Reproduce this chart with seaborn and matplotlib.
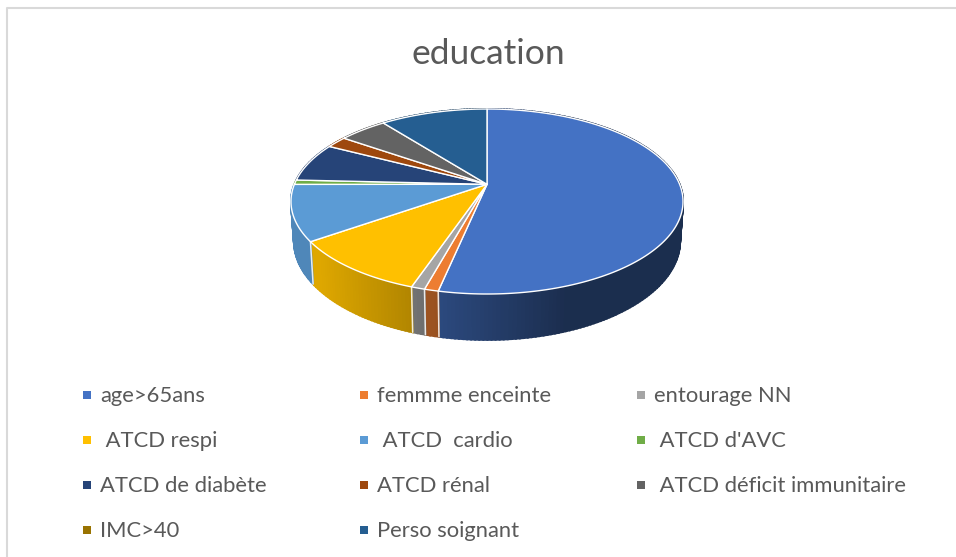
import numpy as np
import matplotlib
matplotlib.use('Agg')
import matplotlib.pyplot as plt
import seaborn as sns

# ── Data ──────────────────────────────────────────────────────────────
title = 'education'
categories = ['age>65ans', 'femmme enceinte', 'entourage NN',
              ' ATCD respi', ' ATCD  cardio', " ATCD d'AVC",
              'ATCD de diabète', 'ATCD rénal', ' ATCD déficit immunitaire',
              'IMC>40', 'Perso soignant']
values = [53.3, 0.97, 0.94, 10.03, 9.72, 0.78, 6.83, 2.06, 4.75, 0.0, 10.58]
colors = ['#4472C4', '#ED7D31', '#A5A5A5', '#FFC000', '#5B9BD5', '#70AD47',
          '#264478', '#9E480E', '#636363', '#997300', '#255E91']

sns.set_theme(style='white')
plt.rcParams['font.family'] = ['Lato', 'DejaVu Sans']
palette = sns.color_palette(colors)

fig = plt.figure(figsize=(9.56, 5.57), dpi=100)
ax = fig.add_axes([0, 0, 1, 1])
ax.set_xlim(0, 956)
ax.set_ylim(557, 0)
ax.axis('off')

# ── Perspective of the pie ────────────────────────────────────────────
cx, cy = 487, 184.3
a, b, p = 192.6, 89.3, 0.186


def top_rim(t):
    # t is clockwise from 12 o'clock, radians
    ux, uy = np.sin(t), np.cos(t)
    return a * ux / (1 + p * uy), b * uy / (1 + p * uy)


def low_rim(t):
    x, y = top_rim(t)
    return 0.985 * x, 1.067 * y - 38.5


def shade(col, x):
    f = np.clip(0.55 - 0.0019 * x, 0.40, 0.87)
    return tuple(c * f for c in col)


edges = np.deg2rad(np.r_[0, np.cumsum(values)] / sum(values) * 360)

# ── Side walls, then top faces ────────────────────────────────────────
for i, col in enumerate(palette):
    t0, t1 = edges[i], edges[i + 1]
    if t1 <= t0:
        continue
    n = max(2, int(np.degrees(t1 - t0)))
    ts = np.linspace(t0, t1, n + 1)
    for s0, s1 in zip(ts[:-1], ts[1:]):
        x0, y0 = top_rim(np.array([s0, s1]))
        x1, y1 = low_rim(np.array([s1, s0]))
        c = shade(col, x0.mean())
        ax.fill(cx + np.r_[x0, x1], cy - np.r_[y0, y1], color=c, lw=1.4, zorder=2)

for i, t in enumerate(edges[:-1]):
    if np.cos(t) < 0.0 and np.sin(t) < 0:
        x0, y0 = top_rim(t)
        x1, y1 = low_rim(t)
        ax.plot([cx + x0, cx + x1], [cy - y0, cy - y1], color='white', lw=1.1,
                alpha=0.85, zorder=3)

for i, col in enumerate(palette):
    t0, t1 = edges[i], edges[i + 1]
    if t1 <= t0:
        continue
    ts = np.linspace(t0, t1, max(3, int(np.degrees(t1 - t0) * 2)))
    x, y = top_rim(ts)
    ax.fill(cx + np.r_[0, x], cy - np.r_[0, y], facecolor=col, edgecolor='white',
            lw=1.0, joinstyle='round', zorder=4)

# ── Title and legend ──────────────────────────────────────────────────
ax.text(488, 54.5, title, ha='center', va='center', fontsize=25.5, color='#595959')

for k, (name, col) in enumerate(zip(categories, palette)):
    row, column = divmod(k, 3)
    mx = 87.5 + 277 * column
    my = 395 + 45 * row
    ax.plot(mx, my, marker='s', ms=5.8, color=col, mew=0, ls='none')
    ax.text(mx + 13, my + 1, name, ha='left', va='center', fontsize=15.8, color='#595959')

# ── Chart frame ───────────────────────────────────────────────────────
ax.plot([7.5, 7.5, 956], [557, 7.5, 7.5], color='#D9D9D9', lw=1.5)

fig.savefig('out.png', dpi=100)
